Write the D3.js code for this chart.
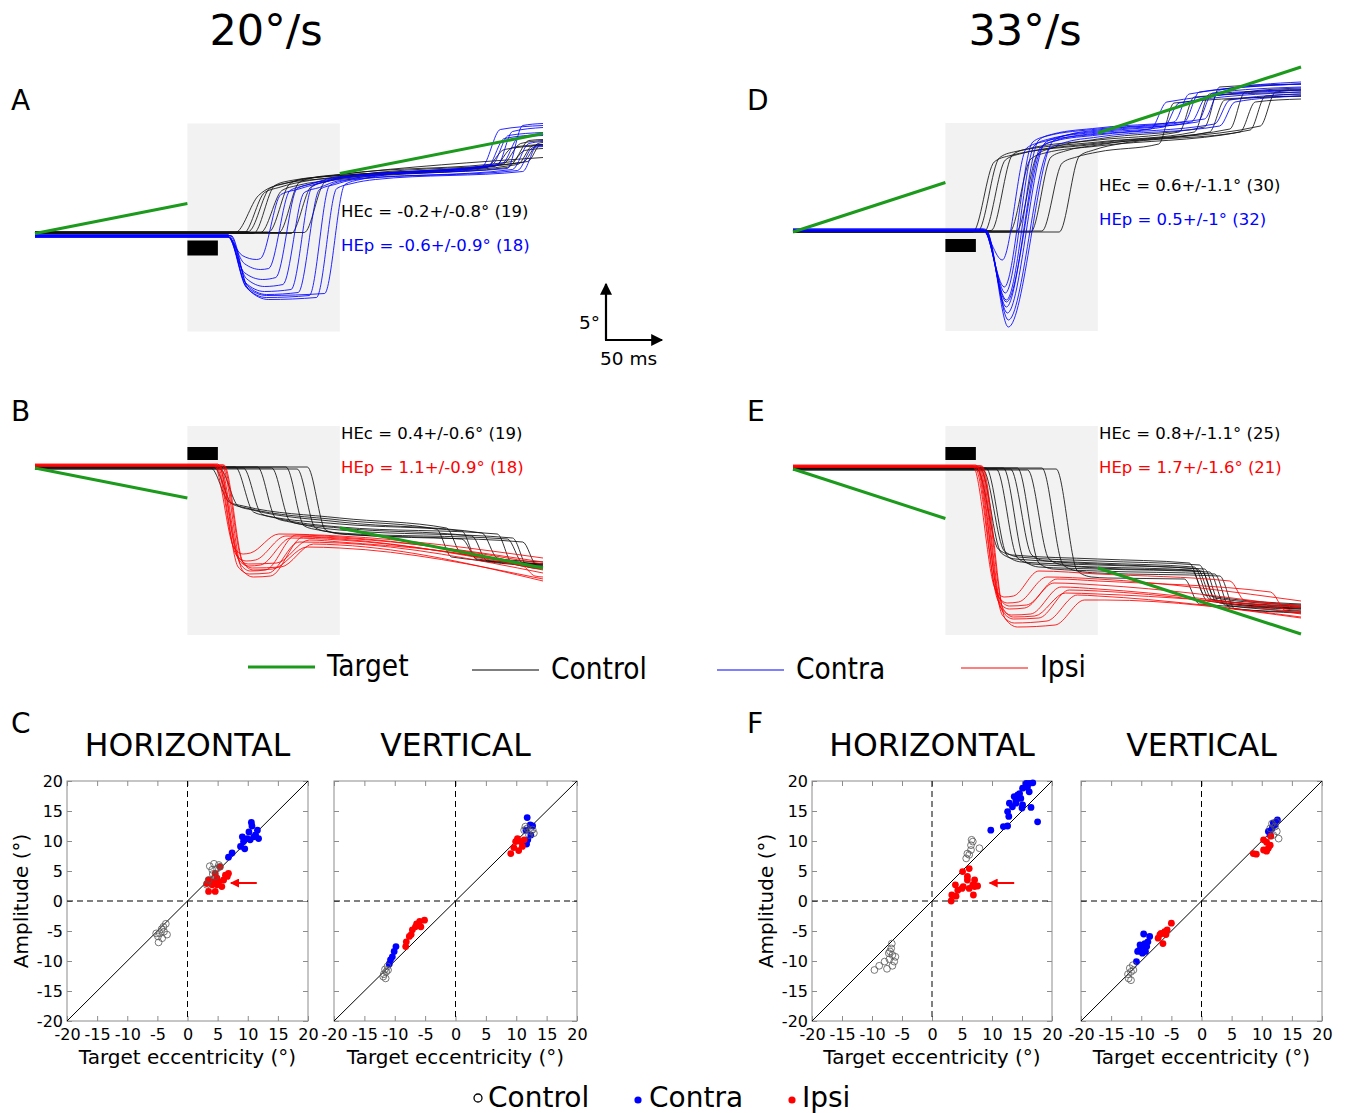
<!DOCTYPE html>
<html><head><meta charset="utf-8">
<script src="https://cdn.jsdelivr.net/npm/d3@7"></script>
<style>
body{margin:0;background:#fff}
svg{display:block}
text{font-family:"DejaVu Sans",sans-serif}
</style>
</head><body>
<svg id="c" width="1347" height="1113"></svg>
<script>
// ---------------- DATA ----------------
// eye position traces: [time ms, position deg]
const traceA_ctrl = [
 [[0,0.1],[197,0.1],[220,3.8],[245,5.0],[300,5.6],[460,6.9],[478,9.0],[500,9.3]],
 [[0,0],[205,0],[226,4.1],[240,4.6],[300,5.7],[452,6.7],[470,8.6],[500,8.9]],
 [[0,0.2],[210,0.2],[231,4.5],[246,5.0],[300,5.9],[470,7.2],[486,9.3],[500,9.4]],
 [[0,0],[215,0],[236,4.8],[252,5.3],[300,5.8],[444,6.6],[462,8.4],[500,8.8]],
 [[0,0.1],[222,0.1],[243,4.3],[258,4.8],[300,5.4],[475,6.9],[490,8.8],[500,8.9]],
 [[0,0.15],[230,0.15],[251,5.0],[266,5.5],[300,5.8],[480,7.1],[495,9.0],[500,9.1]],
 [[0,0.1],[240,0.1],[260,5.1],[275,5.6],[300,5.9],[500,7.6]],
 [[0,0],[252,0],[272,4.7],[287,5.2],[300,5.5],[465,6.6],[482,8.3],[500,8.5]],
 [[0,0.1],[265,0.1],[285,5.1],[300,5.6],[320,5.9],[485,7.2],[498,8.9],[500,8.9]]
];
const traceA_contra = [
 [[0,-0.2],[188,-0.2],[204,-2.2],[218,-2.6],[222,-2.5],[242,3.9],[258,4.4],[300,5.5],[445,6.6],[462,9.5],[500,9.9]],
 [[0,-0.3],[190,-0.3],[206,-3.0],[222,-3.6],[230,-3.5],[251,4.3],[266,4.8],[300,5.6],[455,6.8],[470,10.2],[500,10.6]],
 [[0,-0.2],[189,-0.2],[206,-3.9],[224,-4.6],[237,-4.4],[258,4.5],[273,5.0],[300,5.7],[465,6.5],[480,10.8],[500,11.0]],
 [[0,-0.4],[191,-0.4],[208,-4.5],[226,-5.3],[244,-5.1],[265,4.1],[280,4.6],[300,5.3],[470,6.4],[486,9.0],[500,9.2]],
 [[0,-0.1],[190,-0.1],[207,-4.9],[226,-5.8],[252,-5.6],[273,4.7],[288,5.2],[305,5.6],[450,6.9],[466,9.8],[500,10.1]],
 [[0,-0.2],[192,-0.2],[209,-5.2],[228,-6.1],[259,-5.9],[280,4.4],[295,4.9],[315,5.4],[475,6.3],[490,8.6],[500,8.7]],
 [[0,-0.3],[190,-0.3],[208,-5.4],[228,-6.4],[270,-6.2],[290,4.8],[305,5.3],[325,5.7],[440,6.7],[458,10.4],[500,10.8]],
 [[0,-0.2],[193,-0.2],[210,-5.6],[230,-6.6],[277,-6.4],[297,4.5],[312,5.0],[335,5.4],[480,6.2],[494,8.8],[500,8.9]],
 [[0,-0.35],[191,-0.35],[208,-5.3],[228,-6.2],[285,-6.0],[305,4.9],[320,5.4],[340,5.8],[460,7.0],[476,9.6],[500,9.8]]
];
const traceD_ctrl = [
 [[0,0],[177,0],[198,7.0],[212,7.6],[300,8.8],[410,10.0],[425,13.2],[500,13.6]],
 [[0,0.1],[182,0.1],[203,7.4],[217,8.0],[300,9.0],[395,10.0],[410,13.8],[500,14.2]],
 [[0,0],[188,0],[209,7.2],[223,7.8],[300,8.9],[430,10.3],[445,14.0],[500,14.4]],
 [[0,0.15],[195,0.15],[216,7.7],[230,8.3],[300,9.2],[380,10.0],[395,13.5],[500,14.0]],
 [[0,0],[213,0],[234,7.3],[248,7.9],[300,8.6],[440,10.0],[455,13.0],[500,13.3]],
 [[0,0.1],[220,0.1],[241,7.8],[255,8.4],[300,9.3],[405,10.5],[420,14.5],[500,14.8]],
 [[0,0],[234,0],[254,7.5],[268,8.1],[300,8.7],[460,10.6],[475,14.0],[500,14.2]],
 [[0,0.1],[245,0.1],[265,6.9],[279,7.5],[300,8.0],[360,8.8],[375,12.9],[500,13.6]],
 [[0,0],[262,0],[282,7.6],[296,8.2],[310,8.6],[450,10.2],[465,13.6],[500,13.8]]
];
const traceD_contra = [
 [[0,0.2],[186,0.2],[206,-2.8],[230,8.4],[245,9.0],[300,9.8],[352,10.3],[368,13.0],[500,14.2]],
 [[0,0.3],[187,0.3],[208,-5.5],[236,9.0],[250,9.6],[300,10.3],[375,11.0],[390,13.8],[500,14.8]],
 [[0,0.1],[188,0.1],[209,-6.1],[238,8.7],[252,9.3],[300,10.0],[392,11.0],[407,13.5],[500,14.3]],
 [[0,0.2],[188,0.2],[210,-6.8],[242,9.2],[256,9.8],[300,10.4],[405,11.3],[420,14.2],[500,15.0]],
 [[0,0.1],[189,0.1],[210,-7.5],[244,8.5],[258,9.1],[300,9.7],[415,10.8],[430,13.2],[500,13.8]],
 [[0,0.3],[189,0.3],[211,-8.1],[248,8.9],[262,9.5],[300,10.1],[398,11.0],[413,13.9],[500,14.5]],
 [[0,0.1],[190,0.1],[212,-8.8],[252,8.3],[266,8.9],[300,9.5],[420,10.6],[435,13.0],[500,13.6]],
 [[0,0.2],[190,0.2],[212,-9.5],[256,9.1],[270,9.7],[300,10.2],[385,11.0],[400,14.0],[500,14.8]],
 [[0,0.1],[188,0.1],[210,-7.0],[246,8.6],[260,9.2],[300,9.9],[365,10.5],[380,12.9],[500,14.0]]
];
const traceB_ctrl = [
 [[0,0],[173,0],[191,-3.4],[205,-3.8],[300,-5.0],[405,-6.0],[420,-8.6],[500,-9.4]],
 [[0,0.1],[176,0.1],[194,-3.6],[208,-4.0],[300,-5.2],[395,-6.1],[410,-8.9],[500,-9.6]],
 [[0,-0.1],[182,-0.1],[200,-3.8],[214,-4.2],[300,-5.4],[440,-6.5],[455,-9.0],[500,-9.6]],
 [[0,0.1],[197,0.1],[215,-4.4],[229,-4.8],[300,-5.6],[420,-6.3],[435,-9.2],[500,-9.8]],
 [[0,0],[205,0],[223,-4.6],[237,-5.0],[300,-5.9],[455,-6.6],[470,-9.6],[500,-10.0]],
 [[0,0.1],[219,0.1],[237,-5.0],[251,-5.4],[300,-6.0],[430,-6.8],[445,-9.3],[500,-9.7]],
 [[0,0],[233,0],[251,-5.3],[265,-5.7],[300,-6.2],[470,-7.0],[485,-9.9],[500,-10.1]],
 [[0,0.1],[247,0.1],[265,-5.8],[279,-6.2],[300,-6.5],[465,-7.1],[480,-9.5],[500,-9.7]],
 [[0,-0.1],[258,-0.1],[276,-6.0],[290,-6.4],[305,-6.6],[480,-7.4],[494,-9.8],[500,-9.9]],
 [[0,0.1],[268,0.1],[286,-6.2],[300,-6.6],[315,-6.7],[420,-7.1],[435,-9.1],[500,-9.6]]
];
const traceB_ipsi = [
 [[0,0.3],[176,0.3],[196,-8.0],[205,-8.6],[212,-8.5],[240,-6.6],[300,-6.8],[500,-9.0]],
 [[0,0.2],[178,0.2],[198,-8.7],[208,-9.3],[217,-9.2],[247,-6.8],[300,-7.0],[500,-9.4]],
 [[0,0.4],[180,0.4],[200,-9.1],[210,-9.8],[222,-9.7],[252,-7.0],[300,-7.2],[500,-10.0]],
 [[0,0.2],[182,0.2],[202,-9.6],[212,-10.3],[227,-10.2],[257,-6.7],[300,-6.9],[500,-9.6]],
 [[0,0.3],[179,0.3],[200,-9.9],[211,-10.6],[230,-10.5],[260,-7.4],[300,-7.5],[500,-10.5]],
 [[0,0.2],[184,0.2],[204,-10.2],[215,-10.9],[232,-10.8],[264,-6.9],[300,-7.1],[500,-10.2]],
 [[0,0.3],[186,0.3],[205,-9.5],[215,-10.2],[234,-10.1],[268,-7.9],[300,-8.0],[500,-11.1]],
 [[0,0.2],[181,0.2],[200,-8.9],[210,-9.6],[238,-9.5],[270,-7.2],[300,-7.4],[480,-9.8],[492,-10.8],[500,-10.9]],
 [[0,0.3],[185,0.3],[204,-9.3],[214,-10.0],[242,-9.9],[274,-7.6],[300,-7.7],[500,-11.3]]
];
const traceE_ctrl = [
 [[0,0],[181,0],[202,-8.0],[216,-8.6],[300,-9.0],[390,-9.4],[405,-12.6],[500,-13.5]],
 [[0,0.1],[184,0.1],[205,-8.4],[219,-9.0],[300,-9.4],[395,-9.8],[410,-13.0],[500,-13.8]],
 [[0,-0.1],[187,-0.1],[208,-8.2],[222,-8.8],[300,-9.2],[400,-9.6],[415,-12.9],[500,-13.6]],
 [[0,0.1],[190,0.1],[211,-8.7],[225,-9.3],[300,-9.6],[405,-10.0],[420,-13.4],[500,-14.0]],
 [[0,0],[200,0],[221,-8.9],[235,-9.5],[300,-9.8],[392,-10.1],[408,-13.2],[500,-13.9]],
 [[0,0.1],[207,0.1],[228,-9.2],[242,-9.8],[300,-10.0],[410,-10.3],[425,-13.6],[500,-14.2]],
 [[0,0],[214,0],[235,-8.6],[249,-9.2],[300,-9.5],[398,-10.0],[413,-13.1],[500,-13.7]],
 [[0,0.1],[221,0.1],[242,-9.4],[256,-10.0],[300,-10.2],[415,-10.5],[430,-13.9],[500,-14.4]],
 [[0,-0.1],[231,-0.1],[252,-9.0],[266,-9.6],[300,-9.9],[402,-10.2],[417,-13.3],[500,-13.9]],
 [[0,0.1],[245,0.1],[266,-9.6],[280,-10.2],[300,-10.4],[420,-10.7],[435,-14.0],[500,-14.3]],
 [[0,0],[259,0],[280,-10.2],[294,-10.8],[310,-10.9],[385,-11.0],[400,-13.5],[500,-14.0]]
];
const traceE_ipsi = [
 [[0,0.3],[177,0.3],[199,-12.0],[208,-12.8],[217,-12.7],[242,-10.2],[300,-10.5],[430,-11.2],[445,-13.2],[500,-13.6]],
 [[0,0.2],[179,0.2],[201,-12.6],[211,-13.4],[222,-13.3],[250,-10.8],[300,-11.0],[500,-13.2]],
 [[0,0.4],[180,0.4],[202,-13.2],[213,-14.0],[228,-13.9],[257,-11.4],[300,-11.6],[500,-13.8]],
 [[0,0.2],[182,0.2],[204,-13.8],[215,-14.6],[234,-14.5],[264,-11.8],[300,-12.0],[500,-14.2]],
 [[0,0.3],[184,0.3],[206,-14.2],[217,-15.0],[242,-14.9],[272,-12.1],[300,-12.2],[500,-14.5]],
 [[0,0.2],[183,0.2],[206,-14.6],[218,-15.4],[250,-15.2],[280,-12.6],[300,-12.7],[500,-14.8]],
 [[0,0.3],[186,0.3],[209,-15.0],[221,-15.8],[258,-15.6],[287,-13.1],[307,-13.1],[500,-14.9]],
 [[0,0.2],[181,0.2],[203,-12.9],[213,-13.7],[230,-13.6],[260,-11.0],[300,-11.2],[470,-12.3],[485,-14.2],[500,-14.4]],
 [[0,0.3],[185,0.3],[207,-14.0],[217,-14.8],[238,-14.7],[268,-12.4],[300,-12.5],[500,-13.9]]
];
// target trajectories (visible segments) [time ms, deg]
const target20up = [[[0,0],[150,3]],[[300,6],[500,10]]];
const target33up = [[[0,0],[150,4.95]],[[300,9.9],[500,16.5]]];
const target20dn = [[[0,0],[150,-3]],[[300,-6],[500,-10]]];
const target33dn = [[[0,0],[150,-4.95]],[[300,-9.9],[500,-16.5]]];
const blankWindow = [150,300];   // ms, target blanked
const perturbWindow = [150,180]; // ms, black bar
const heText = {
 A:["HEc = -0.2+/-0.8° (19)","HEp = -0.6+/-0.9° (18)"],
 D:["HEc = 0.6+/-1.1° (30)","HEp = 0.5+/-1° (32)"],
 B:["HEc = 0.4+/-0.6° (19)","HEp = 1.1+/-0.9° (18)"],
 E:["HEc = 0.8+/-1.1° (25)","HEp = 1.7+/-1.6° (21)"]
};
// scatter: [target eccentricity, amplitude]
const hz20_ctrl = [[-4.6,-5.4],[-4.0,-4.3],[-3.6,-3.8],[-4.9,-5.9],[-4.2,-6.2],[-3.4,-5.6],[-4.8,-6.9],[-5.2,-5.4],[-3.9,-5.1],[-4.3,-4.7],[3.7,5.8],[4.4,6.2],[5.2,6.0],[4.1,5.2],[4.9,5.4],[3.5,3.5],[3.2,2.7],[4.6,4.1],[4.2,4.5],[5.4,5.7]];
const hz20_contra = [[10.6,13.1],[10.7,12.5],[11.6,11.8],[10.2,11.5],[9.1,10.7],[9.9,10.4],[11,10.7],[11.8,10.4],[9.3,9.9],[10.4,10.2],[8.8,9.1],[9.5,8.7],[7.4,8.0],[6.8,7.3],[11.3,11.0]];
const hz20_ipsi = [[5.4,5.7],[6.3,4.3],[4.9,3.8],[4.3,3.2],[3.5,3.5],[6,3.5],[4.9,2.7],[4.1,2.7],[6.6,4.1],[5.7,2.4],[4.6,4.6],[3.5,1.6],[4.6,1.6],[5.2,3.2],[6.8,4.6],[3.2,2.9]];
const vt20_ctrl = [[-11.6,-11.4],[-11.4,-11.8],[-11.8,-12.2],[-11.2,-10.9],[-11.9,-12.6],[-11.5,-12.9],[-11.1,-11.5],[11.3,11.8],[11.8,12.1],[12.4,11.6],[12.9,11.3],[12.1,11],[11.5,12.4],[12.7,11.9]];
const vt20_contra = [[11.8,13.9],[12.3,12.7],[11.6,11.8],[12.4,11],[11.9,10.2],[11.7,9.5],[12.7,12.5],[-9.8,-7.6],[-10.1,-8.4],[-10.4,-9.3],[-10.7,-9.8],[-10.9,-10.5]];
const vt20_ipsi = [[9.1,7.9],[9.6,8.9],[10.2,10.4],[10.7,9.9],[10.4,8.4],[11,9.1],[11.3,10.2],[9.9,9.9],[-8.2,-7.6],[-7.6,-5.9],[-7.1,-4.8],[-6.4,-3.8],[-5.9,-3.4],[-5.1,-3.2],[-6.6,-4.3],[-5.7,-4.3],[-7.3,-5.6],[-8.1,-6.8]];
const hz33_ctrl = [[-9.6,-11.5],[-8.8,-10.8],[-7.9,-10.1],[-7.1,-9.7],[-6.6,-9.0],[-6.8,-7.9],[-7.0,-8.4],[-6.3,-10.1],[-7.5,-11.3],[-6.6,-10.8],[-7.2,-8.7],[-6.7,-7.1],[-6.1,-9.3],[5.7,7.1],[6.2,7.7],[6.5,8.5],[6.5,9.3],[6.8,9.9],[7.9,8.8],[5.9,7.9],[6.6,10.2]];
const hz33_contra = [[9.8,11.8],[11.9,12.4],[12.6,12.5],[12.6,14.9],[12.8,14.1],[12.9,16.3],[13.4,15.7],[14,16.8],[14.6,17.9],[15.1,18.8],[15.7,19.6],[16.2,19.6],[14.8,17.1],[15.1,16],[14,16.3],[14.3,17.7],[16.2,18.2],[16.5,15.6],[17.6,13.2],[15,15.5],[13.7,17.4],[15.9,18.9],[16.8,19.7]];
const hz33_ipsi = [[3.2,0],[3.3,1],[4,0.8],[3.9,2.7],[4.3,1.8],[5.2,2.4],[5.1,4.9],[5.9,4.1],[6.2,5.4],[6.8,2.7],[7.1,2.4],[7.6,2.5],[6.9,1],[6.2,2.1],[5.0,2.1],[5.9,3.5],[7.1,3.5]];
const vt33_ctrl = [[-11.9,-11.2],[-11.7,-11.8],[-12.2,-12.2],[-11.4,-10.7],[-12.1,-12.9],[-11.7,-13.2],[-11.3,-11.5],[11.7,12.9],[12.2,12.4],[12.5,11.6],[11.9,11],[12.8,10.4],[11.4,12.1],[12.4,13.2]];
const vt33_contra = [[11.1,11.6],[11.7,12.1],[12.2,12.7],[12.6,13.5],[11.4,11],[11.9,13],[-10.8,-10.1],[-10.6,-8.4],[-10,-7.6],[-9.6,-5.5],[-9.4,-7.1],[-8.9,-6.8],[-8.6,-5.9],[-10.3,-8.2],[-9.3,-8.4],[-9.8,-8.7],[-9.1,-7.6],[-10.2,-7.3]];
const vt33_ipsi = [[8.6,7.9],[9.1,7.8],[10.3,10.2],[10.8,9.8],[11.1,8.8],[11.4,9.3],[10.8,8.3],[10.3,8.5],[11.5,10.8],[-7.2,-6.2],[-6.7,-5.4],[-6.1,-5.1],[-5.7,-4.8],[-5,-3.7],[-6.4,-7.1],[-6.9,-5.6],[-5.9,-5.6]];
const arrow20 = [[11.5,3],[7.2,3]];
const arrow33 = [[13.7,3],[9.6,3]];
const axisTicks = [-20,-15,-10,-5,0,5,10,15,20];

// ---------------- DRAWING ----------------
const svg = d3.select('#c');
const GREEN = '#1c9a1c', BLUE = '#0000ff', RED = '#ff0000';
const defs = svg.append('defs');
function marker(id,color,w,h){
  defs.append('marker').attr('id',id).attr('viewBox','0 0 10 10').attr('refX',9).attr('refY',5)
   .attr('markerWidth',w).attr('markerHeight',h).attr('markerUnits','userSpaceOnUse').attr('orient','auto')
   .append('path').attr('d','M0,0L10,5L0,10Z').attr('fill',color);
}
marker('ahBlack','#000',14,12);
marker('ahRed',RED,12,9);

function txt(x,y,s,size,opt={}){
  const t = svg.append('text').attr('x',x).attr('y',y).attr('font-size',size).text(s);
  if(opt.anchor) t.attr('text-anchor',opt.anchor);
  if(opt.fill) t.attr('fill',opt.fill);
  if(opt.family) t.style('font-family',opt.family);
  return t;
}

const tracePanels = [
 {L:'A', x0:35, x1:543, y0:233.5, box:[11,-9.8], bar:[-0.7,-2.2], ctrl:traceA_ctrl, exp:traceA_contra, col:BLUE, tgt:target20up, tx:341, ty:217},
 {L:'D', x0:793, x1:1301, y0:232, box:[10.9,-9.9], bar:[-0.7,-2.0], ctrl:traceD_ctrl, exp:traceD_contra, col:BLUE, tgt:target33up, tx:1099, ty:191},
 {L:'B', x0:35, x1:543, y0:468, box:[4.2,-16.7], bar:[2.1,0.8], ctrl:traceB_ctrl, exp:traceB_ipsi, col:RED, tgt:target20dn, tx:341, ty:439},
 {L:'E', x0:793, x1:1301, y0:469, box:[4.3,-16.6], bar:[2.2,0.9], ctrl:traceE_ctrl, exp:traceE_ipsi, col:RED, tgt:target33dn, tx:1099, ty:439}
];

tracePanels.forEach(p=>{
  const x = d3.scaleLinear().domain([0,500]).range([p.x0,p.x1]);
  const y = d3.scaleLinear().domain([0,10]).range([p.y0,p.y0-100]);
  const g = svg.append('g');
  g.append('rect').attr('x',x(blankWindow[0])).attr('width',x(blankWindow[1])-x(blankWindow[0]))
   .attr('y',y(p.box[0])).attr('height',y(p.box[1])-y(p.box[0])).attr('fill','#f2f2f2');
  const line = d3.line().x(d=>x(d[0])).y(d=>y(d[1])).curve(d3.curveMonotoneX);
  g.append('g').selectAll('path').data(p.ctrl).join('path').attr('d',line)
   .attr('fill','none').attr('stroke','#111').attr('stroke-width',0.85);
  g.append('g').selectAll('path').data(p.exp).join('path').attr('d',line)
   .attr('fill','none').attr('stroke',p.col).attr('stroke-width',0.85);
  const tl = d3.line().x(d=>x(d[0])).y(d=>y(d[1]));
  g.append('g').selectAll('path').data(p.tgt).join('path').attr('d',tl)
   .attr('fill','none').attr('stroke',GREEN).attr('stroke-width',3);
  g.append('rect').attr('x',x(perturbWindow[0])).attr('width',x(perturbWindow[1])-x(perturbWindow[0]))
   .attr('y',y(p.bar[0])).attr('height',y(p.bar[1])-y(p.bar[0])).attr('fill','#000');
  txt(p.tx,p.ty,heText[p.L][0],16.5,{fill:'#000'});
  txt(p.tx,p.ty+34,heText[p.L][1],16.5,{fill:p.col});
});

// titles and panel letters
txt(266,45,'20°/s',43,{anchor:'middle'});
txt(1025,45,'33°/s',43,{anchor:'middle'});
[['A',11,110],['B',11,421],['C',11,733],['D',747,110],['E',747,421],['F',747,733]].forEach(d=>txt(d[1],d[2],d[0],28));

// scale bar
svg.append('line').attr('x1',606).attr('y1',340).attr('x2',606).attr('y2',284).attr('stroke','#000').attr('stroke-width',2.2).attr('marker-end','url(#ahBlack)');
svg.append('line').attr('x1',605).attr('y1',340).attr('x2',662).attr('y2',340).attr('stroke','#000').attr('stroke-width',2.2).attr('marker-end','url(#ahBlack)');
txt(600,329,'5°',18.5,{anchor:'end'});
txt(600,365,'50 ms',18.5);

// top legend
const leg1 = [
 {x:248, label:'Target', col:GREEN, w:3, ty:676},
 {x:472, label:'Control', col:'#000', w:1.2, ty:679},
 {x:717, label:'Contra', col:BLUE, w:1.2, ty:679},
 {x:961, label:'Ipsi', col:RED, w:1.2, ty:677}
];
leg1.forEach(d=>{
  svg.append('line').attr('x1',d.x).attr('x2',d.x+67).attr('y1',d.ty-9).attr('y2',d.ty-9).attr('stroke',d.col).attr('stroke-width',d.w);
  txt(d.x+79,d.ty,d.label,29.5,{family:'"DejaVu Sans Condensed","DejaVu Sans",sans-serif'});
});

// scatter panels
const scatterPanels = [
 {x0:67, x1:308, title:'HORIZONTAL', ylab:true, ctrl:hz20_ctrl, contra:hz20_contra, ipsi:hz20_ipsi, arrow:arrow20, alx:21},
 {x0:334, x1:577, title:'VERTICAL', ylab:false, ctrl:vt20_ctrl, contra:vt20_contra, ipsi:vt20_ipsi},
 {x0:812, x1:1052, title:'HORIZONTAL', ylab:true, ctrl:hz33_ctrl, contra:hz33_contra, ipsi:hz33_ipsi, arrow:arrow33, alx:766},
 {x0:1081, x1:1322, title:'VERTICAL', ylab:false, ctrl:vt33_ctrl, contra:vt33_contra, ipsi:vt33_ipsi}
];
const yTop = 781, yBot = 1021;
scatterPanels.forEach(p=>{
  const x = d3.scaleLinear().domain([-20,20]).range([p.x0,p.x1]);
  const y = d3.scaleLinear().domain([-20,20]).range([yBot,yTop]);
  const g = svg.append('g');
  const styleAxis = sel=>{
    sel.select('.domain').remove();
    sel.selectAll('.tick line').attr('stroke','#8c8c8c');
    sel.selectAll('.tick text').attr('font-size',16).attr('fill','#000').style('font-family','"DejaVu Sans",sans-serif');
  };
  g.append('g').attr('transform',`translate(0,${yBot})`).call(d3.axisBottom(x).tickValues(axisTicks).tickSize(-5).tickPadding(8).tickFormat(d=>String(d))).call(styleAxis);
  g.append('g').attr('transform',`translate(0,${yTop})`).call(d3.axisTop(x).tickValues(axisTicks).tickSize(-5).tickFormat('')).call(styleAxis);
  g.append('g').attr('transform',`translate(${p.x0},0)`).call(d3.axisLeft(y).tickValues(axisTicks).tickSize(-5).tickPadding(4).tickFormat(p.ylab?(d=>String(d)):'')).call(styleAxis);
  g.append('g').attr('transform',`translate(${p.x1},0)`).call(d3.axisRight(y).tickValues(axisTicks).tickSize(-5).tickFormat('')).call(styleAxis);
  g.append('rect').attr('x',p.x0).attr('y',yTop).attr('width',p.x1-p.x0).attr('height',yBot-yTop)
   .attr('fill','none').attr('stroke','#8c8c8c').attr('stroke-width',1);
  // zero lines
  g.append('line').attr('x1',x(0)).attr('x2',x(0)).attr('y1',y(20)).attr('y2',y(-20)).attr('stroke','#000').attr('stroke-dasharray','6,4').attr('stroke-width',1);
  g.append('line').attr('x1',x(-20)).attr('x2',x(20)).attr('y1',y(0)).attr('y2',y(0)).attr('stroke','#000').attr('stroke-dasharray','6,4').attr('stroke-width',1);
  g.append('line').attr('x1',x(-20)).attr('x2',x(20)).attr('y1',y(-20)).attr('y2',y(20)).attr('stroke','#000').attr('stroke-width',1);
  g.append('g').selectAll('circle').data(p.contra).join('circle').attr('cx',d=>x(d[0])).attr('cy',d=>y(d[1])).attr('r',3.4).attr('fill',BLUE);
  g.append('g').selectAll('circle').data(p.ipsi).join('circle').attr('cx',d=>x(d[0])).attr('cy',d=>y(d[1])).attr('r',3.4).attr('fill',RED);
  g.append('g').selectAll('circle').data(p.ctrl).join('circle').attr('cx',d=>x(d[0])).attr('cy',d=>y(d[1])).attr('r',3.4).attr('fill','none').attr('stroke','#555').attr('stroke-width',0.8);
  if(p.arrow){
    g.append('line').attr('x1',x(p.arrow[0][0])).attr('y1',y(p.arrow[0][1])).attr('x2',x(p.arrow[1][0])).attr('y2',y(p.arrow[1][1]))
     .attr('stroke',RED).attr('stroke-width',2).attr('marker-end','url(#ahRed)');
  }
  txt((p.x0+p.x1)/2,756,p.title,31.5,{anchor:'middle'});
  txt((p.x0+p.x1)/2,1064,'Target eccentricity (°)',20,{anchor:'middle'});
  if(p.ylab){
    svg.append('text').attr('transform',`translate(${p.alx},${(yTop+yBot)/2}) rotate(-90)`).attr('text-anchor','middle')
     .attr('dy','0.35em').attr('font-size',20).text('Amplitude (°)');
  }
});

// bottom legend
svg.append('circle').attr('cx',478).attr('cy',1098).attr('r',4).attr('fill','none').attr('stroke','#000').attr('stroke-width',1.3);
txt(488,1107,'Control',28);
svg.append('circle').attr('cx',638).attr('cy',1100).attr('r',3.6).attr('fill',BLUE);
txt(649,1107,'Contra',28);
svg.append('circle').attr('cx',792).attr('cy',1100).attr('r',3.6).attr('fill',RED);
txt(802,1107,'Ipsi',28);
</script>
</body></html>
